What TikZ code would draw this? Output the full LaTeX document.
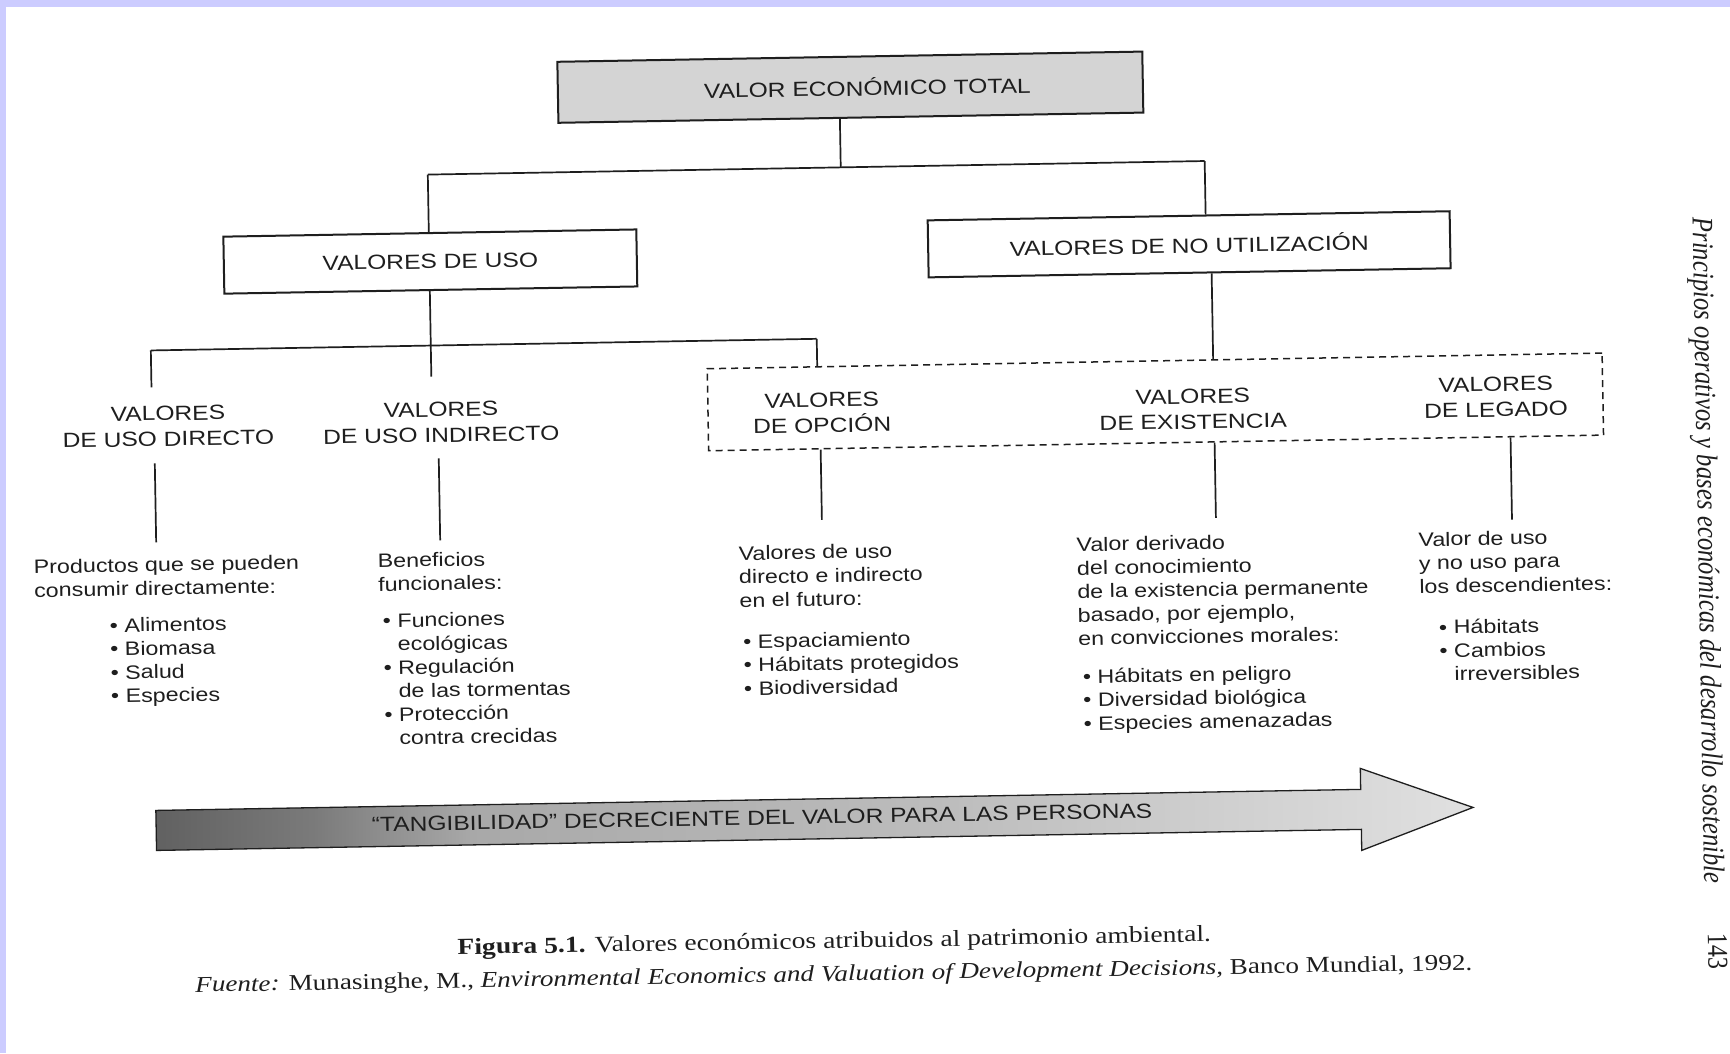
\documentclass[tikz,border=0pt]{standalone}
\usepackage{fontspec}
\setmainfont{Liberation Serif}
\newfontfamily\arialf{Liberation Sans}
\usetikzlibrary{calc}
\definecolor{frame}{HTML}{CCCCFF}
\definecolor{ink}{HTML}{1E1E1E}
\pgfdeclarehorizontalshading{arrowsh}{100bp}{color(0bp)=(black!62); color(25bp)=(black!62); color(31bp)=(black!52); color(37bp)=(black!34); color(55bp)=(black!26); color(75bp)=(black!12); color(100bp)=(black!12)}
\newcommand\bulind{\hphantom{•\ }}
\begin{document}
\begin{tikzpicture}[x=1pt,y=-1pt,
  boxnode/.style={draw=ink, line width=2pt, inner sep=0pt, text=ink, font=\arialf\fontsize{20.5}{25.5}\selectfont},
  topbox/.style={boxnode, fill=black!17, minimum width=585pt, minimum height=61pt},
  ubox/.style={boxnode, minimum width=413pt, minimum height=57pt},
  nbox/.style={boxnode, minimum width=522pt, minimum height=57pt},
  grpbox/.style={draw=ink, line width=1.5pt, dash pattern=on 7pt off 5pt, minimum width=895pt, minimum height=82pt, inner sep=0pt},
  caplabel/.style={align=center, inner sep=0pt, text=ink, font=\arialf\fontsize{20.5}{25.5}\selectfont, xscale=1.2},
  desc/.style={align=left, anchor=north west, inner sep=0pt, text=ink, font=\arialf\fontsize{19.4}{23.5}\selectfont, xscale=1.2},
  arrowtxt/.style={inner sep=0pt, text=ink, font=\arialf\fontsize{20.5}{24}\selectfont, xscale=1.2},
  captxt/.style={inner sep=0pt, text=ink, font=\fontsize{23}{26}\selectfont, xscale=1.2},
  sidetxt/.style={inner sep=0pt, text=ink, font=\fontsize{24}{26}\selectfont, rotate=-90, yscale=1.2},
  conn/.style={draw=ink, line width=1.7pt}
]
\useasboundingbox (0,0) rectangle (1730,1053);
\fill[white] (0,0) rectangle (1730,1053);
\fill[frame] (0,0) rectangle (1730,7);
\fill[frame] (0,0) rectangle (6,1053);

\begin{scope}[rotate around={1:(865,526)}, transform shape]
% main boxes
\node[topbox] (vet) at (858,87) {\hspace*{34pt}\scalebox{1.2}[1]{VALOR ECONÓMICO TOTAL}};
\node[ubox] (uso) at (435,254) {\scalebox{1.2}[1]{VALORES DE USO}};
\node[nbox] (nou) at (1194,250) {\scalebox{1.2}[1]{VALORES DE NO UTILIZACIÓN}};
\node[grpbox] (grp) at (1157.5,407) {};

% category labels
\node[caplabel] (lud) at (170,414) {VALORES\\DE USO DIRECTO};
\node[caplabel] (lui) at (443,415) {VALORES\\DE USO INDIRECTO};
\node[caplabel] (lop) at (824,412) {VALORES\\DE OPCIÓN};
\node[caplabel] (lex) at (1195,415) {VALORES\\DE EXISTENCIA};
\node[caplabel] (lle) at (1498,408) {VALORES\\DE LEGADO};

% descriptions
\node[desc] (d1) at (33,542) {\rule{0pt}{17pt}Productos que se pueden\\consumir directamente:};
\node[desc] (d1b) at (108,602) {\rule{0pt}{17pt}• Alimentos\\• Biomasa\\• Salud\\• Especies};
\node[desc] (d2) at (377,542) {\rule{0pt}{17pt}Beneficios\\funcionales:};
\node[desc] (d2b) at (381,602) {\rule{0pt}{17pt}• Funciones\\\bulind ecológicas\\• Regulación\\\bulind de las tormentas\\• Protección\\\bulind contra crecidas};
\node[desc] (d3) at (738,541) {\rule{0pt}{17pt}Valores de uso\\directo e indirecto\\en el futuro:};
\node[desc] (d3b) at (741,629) {\rule{0pt}{17pt}• Espaciamiento\\• Hábitats protegidos\\• Biodiversidad};
\node[desc] (d4) at (1076,538) {\rule{0pt}{17pt}Valor derivado\\del conocimiento\\de la existencia permanente\\basado, por ejemplo,\\en convicciones morales:};
\node[desc] (d4b) at (1080,670) {\rule{0pt}{17pt}• Hábitats en peligro\\• Diversidad biológica\\• Especies amenazadas};
\node[desc] (d5) at (1418,539) {\rule{0pt}{17pt}Valor de uso\\y no uso para\\los descendientes:};
\node[desc] (d5b) at (1437,627) {\rule{0pt}{17pt}• Hábitats\\• Cambios\\\bulind irreversibles};

% junction coordinates
\coordinate (j1) at (847,167);
\coordinate (j1l) at (434,167);
\coordinate (j1r) at (1211,167);
\coordinate (e2m) at (434,369);
\coordinate (j2l) at (154,338);
\coordinate (j2r) at (820,338);
\coordinate (e2l) at (154,375);
\coordinate (xn) at (1216,300);
\coordinate (s1) at (156,451);
\coordinate (s2) at (440,451);
\coordinate (s3) at (822,451);
\coordinate (s4) at (1216,451);
\coordinate (s5) at (1512,451);

% tree connectors
\draw[conn] (vet.south -| j1) -- (j1);
\draw[conn] (j1l) -- (j1r);
\draw[conn] (j1l) -- (uso.north -| j1l);
\draw[conn] (j1r) -- (nou.north -| j1r);
\draw[conn] (uso.south -| j1l) -- (e2m);
\draw[conn] (j2l) -- (j2r);
\draw[conn] (j2l) -- (e2l);
\draw[conn] (j2r) -- (grp.north -| j2r);
\draw[conn] (nou.south -| xn) -- (grp.north -| xn);

% connectors to descriptions
\draw[conn, shorten >=12pt] (s1) -- (s1 |- d1.north);
\draw[conn, shorten >=9pt] (s2) -- (s2 |- d2.north);
\draw[conn, shorten >=22pt] (grp.south -| s3) -- (s3 |- d3.north);
\draw[conn, shorten >=14pt] (grp.south -| s4) -- (s4 |- d4.north);
\draw[conn, shorten >=8pt] (grp.south -| s5) -- (s5 |- d5.north);

% big arrow
\coordinate (aL1) at (151,798);
\coordinate (aH1) at (1356,798);
\coordinate (aHt) at (1356,777);
\coordinate (aTip) at (1468,818);
\coordinate (aHb) at (1356,859);
\coordinate (aH2) at (1356,838);
\coordinate (aL2) at (151,838);
\shadedraw[shading=arrowsh, draw=ink, line width=1.3pt, line join=miter]
  (aL1) -- (aH1) -- (aHt) -- (aTip) -- (aHb) -- (aH2) -- (aL2) -- cycle;
\node[arrowtxt] (atx) at (757,816) {“TANGIBILIDAD” DECRECIENTE DEL VALOR PARA LAS PERSONAS};

% caption
\node[captxt] (cap1) at (827,942) {\textbf{Figura 5.1.} Valores económicos atribuidos al patrimonio ambiental.};
\node[captxt, font=\fontsize{22.6}{25}\selectfont] (cap2) at (826,975) {\textit{Fuente:} Munasinghe, M., \textit{Environmental Economics and Valuation of Development Decisions,} Banco Mundial, 1992.};

% running head and page number
\node[sidetxt, font=\itshape\fontsize{24.8}{27}\selectfont] (side) at (1705,565) {Principios operativos y bases económicas del desarrollo sostenible};
\node[sidetxt] (pnum) at (1710,966) {143};
\end{scope}
\end{tikzpicture}
\end{document}
